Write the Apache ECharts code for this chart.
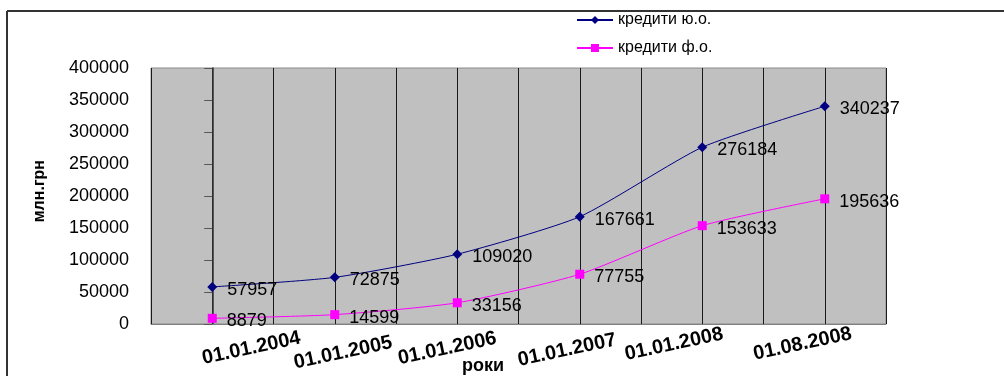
<!DOCTYPE html>
<html>
<head>
<meta charset="utf-8">
<script src="https://cdn.jsdelivr.net/npm/echarts@6/dist/echarts.min.js"></script>
<style>
html,body{margin:0;padding:0;background:#fff;}
#chart{width:1004px;height:376px;}
</style>
</head>
<body>
<div id="chart"></div>
<script>
// дані
var dates = ['01.01.2004', '01.01.2005', '01.01.2006', '01.01.2007', '01.01.2008', '01.08.2008'];
var kredytyUO = [57957, 72875, 109020, 167661, 276184, 340237];
var kredytyFO = [8879, 14599, 33156, 77755, 153633, 195636];
var yTicks = [0, 50000, 100000, 150000, 200000, 250000, 300000, 350000, 400000];
var seriesNames = ['кредити ю.о.', 'кредити ф.о.'];

var chart = echarts.init(document.getElementById('chart'));

function pairs(vals) {
	return vals.map(function (v, i) { return [i, v]; });
}

// зсув підписів дат (як в оригіналі вони "гуляють")
var datePad = [[18, 0, 0, 68], [16, 0, 0, 6], [8, 28, 0, 0], [9, 34, 0, 0], [0, 62, 0, 0], [1, 50, 0, 0]];
var dateRich = {};
datePad.forEach(function (p, i) {
	dateRich['d' + i] = {
		padding: p,
		color: '#000',
		fontSize: 20,
		fontWeight: 'bold',
		fontFamily: 'Liberation Sans, Arial, sans-serif'
	};
});

var labelStyle = {
	show: true,
	position: 'right',
	distance: 10,
	offset: [0, 3],
	color: '#000',
	fontSize: 18,
	fontFamily: 'Liberation Sans, Arial, sans-serif'
};

var option = {
	backgroundColor: '#fff',
	animation: false,
	legend: {
		orient: 'vertical',
		left: 571,
		top: 7,
		itemWidth: 36,
		itemHeight: 10,
		itemGap: 12,
		textStyle: {
			color: '#000',
			fontSize: 16,
			fontFamily: 'Liberation Sans, Arial, sans-serif'
		},
		data: seriesNames
	},
	grid: {
		left: 151,
		right: 118,
		top: 68,
		bottom: 52,
		show: true,
		backgroundColor: '#c0c0c0',
		borderColor: '#8a8a8a',
		borderWidth: 1
	},
	xAxis: {
		type: 'value',
		min: -0.5,
		max: 5.5,
		interval: 0.5,
		axisLine: { show: true, lineStyle: { color: '#808080', width: 1 } },
		axisTick: { show: false },
		splitLine: { show: true, lineStyle: { color: '#1a1a1a', width: 1 } },
		axisLabel: {
			rotate: 12,
			align: 'center',
			verticalAlign: 'top',
			margin: 4,
			formatter: function (v) {
				return Number.isInteger(v) ? '{d' + v + '|' + dates[v] + '}' : '';
			},
			rich: dateRich
		}
	},
	yAxis: {
		type: 'value',
		min: yTicks[0],
		max: yTicks[yTicks.length - 1],
		interval: yTicks[1] - yTicks[0],
		axisLine: { show: true, lineStyle: { color: '#333', width: 1.5 } },
		axisTick: { show: true, inside: false, length: 8, lineStyle: { color: '#555' } },
		splitLine: { show: false },
		axisLabel: {
			margin: 22,
			color: '#000',
			fontSize: 18,
			fontFamily: 'Liberation Sans, Arial, sans-serif',
			formatter: function (v) { return String(v); }
		}
	},
	graphic: [
		// рамка
		{ type: 'line', shape: { x1: 7, y1: 11, x2: 1004, y2: 11 }, style: { stroke: '#333', lineWidth: 2 } },
		{ type: 'line', shape: { x1: 7, y1: 11, x2: 7, y2: 376 }, style: { stroke: '#333', lineWidth: 2 } },
		{
			type: 'text',
			left: 32,
			top: 160,
			rotation: Math.PI / 2,
			style: {
				text: 'млн.грн',
				fill: '#000',
				font: 'bold 16px "Liberation Sans", Arial, sans-serif'
			}
		},
		{
			type: 'text',
			left: 462,
			top: 357,
			style: {
				text: 'роки',
				fill: '#000',
				font: 'bold 18px "Liberation Sans", Arial, sans-serif'
			}
		}
	],
	series: [
		{
			name: seriesNames[0],
			type: 'line',
			smooth: 0.2,
			symbol: 'diamond',
			symbolSize: 10,
			data: pairs(kredytyUO),
			lineStyle: { color: '#000080', width: 1 },
			itemStyle: { color: '#000080' },
			label: labelStyle
		},
		{
			name: seriesNames[1],
			type: 'line',
			smooth: 0.2,
			symbol: 'rect',
			symbolSize: 9,
			data: pairs(kredytyFO),
			lineStyle: { color: '#ff00ff', width: 1 },
			itemStyle: { color: '#ff00ff' },
			label: labelStyle
		}
	]
};

chart.setOption(option);
</script>
</body>
</html>
